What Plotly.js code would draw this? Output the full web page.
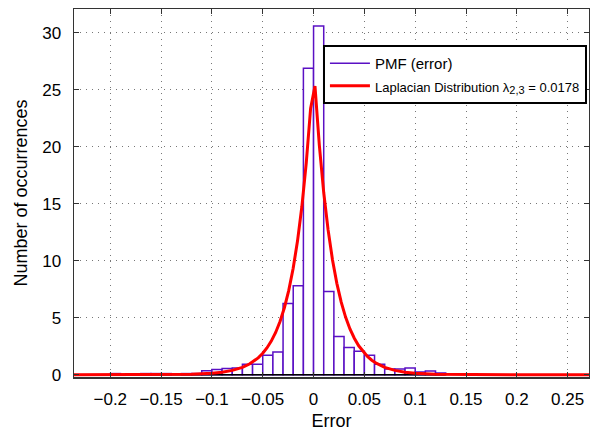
<!DOCTYPE html>
<html>
<head>
<meta charset="utf-8">
<script src="https://cdn.plot.ly/plotly-3.0.1.min.js"></script>
<style>html,body{margin:0;padding:0;background:#fff}#chart{width:590px;height:431px}</style>
</head>
<body>
<div id="chart"></div>
<script>
// Histogram bins (centers) and counts
const binCenters = [-0.195, -0.165, -0.155, -0.145, -0.125, -0.115, -0.105, -0.095, -0.085, -0.075,
  -0.065, -0.055, -0.045, -0.035, -0.025, -0.015, -0.005, 0.005, 0.015, 0.025,
  0.035, 0.045, 0.055, 0.065, 0.075, 0.085, 0.095, 0.105, 0.115, 0.125];
const binCounts = [0.1, 0.1, 0.1, 0.1, 0.1, 0.1, 0.35, 0.45, 0.55, 0.6,
  0.93, 0.93, 1.7, 2.0, 6.25, 7.8, 26.9, 30.6, 7.3, 3.35,
  2.4, 2.05, 1.7, 0.93, 0.5, 0.5, 0.6, 0.24, 0.33, 0.15];
const binWidth = 0.01;

// Laplacian curve points
const curveX = [-0.2357, -0.2, -0.15, -0.12, -0.1, -0.09, -0.08, -0.07, -0.0631, -0.0588, -0.0545, -0.0502,
  -0.0459, -0.0416, -0.0373, -0.0330, -0.0287, -0.0244, -0.0201, -0.0158, -0.0115, -0.0072, -0.0029,
  0.0014, 0.0057, 0.0100, 0.0143, 0.0186, 0.0229, 0.0272, 0.0315, 0.0358, 0.0401, 0.0444, 0.0487,
  0.0530, 0.0573, 0.0616, 0.07, 0.08, 0.09, 0.1, 0.12, 0.15, 0.2, 0.271];
const curveY = [0, 0.001, 0.009, 0.045, 0.13, 0.22, 0.38, 0.65, 0.94, 1.18, 1.48, 1.86,
  2.35, 2.95, 3.71, 4.67, 5.88, 7.40, 9.32, 11.73, 14.76, 18.58, 23.38,
  25.33, 20.13, 15.99, 12.71, 10.10, 8.02, 6.37, 5.06, 4.02, 3.20, 2.54, 2.02,
  1.60, 1.27, 1.01, 0.65, 0.38, 0.22, 0.13, 0.045, 0.009, 0.001, 0];

const xTicks = [-0.2, -0.15, -0.1, -0.05, 0, 0.05, 0.1, 0.15, 0.2, 0.25];
const yTicks = [0, 5, 10, 15, 20, 25, 30];
const baselineX = [-0.2, 0.13];
const baselineY = [0, 0];

const purple = '#5a10c4';
const FONT = 'Liberation Sans, Arial, sans-serif';

const traces = [
  {type: 'bar', x: binCenters, y: binCounts, width: binWidth,
   marker: {color: '#ffffff', line: {color: purple, width: 1.5}},
   showlegend: false, hoverinfo: 'skip'},
  {type: 'scatter', mode: 'lines', x: baselineX, y: baselineY,
   line: {color: '#000', width: 1.5}, showlegend: false, hoverinfo: 'skip'},
  {type: 'scatter', mode: 'lines', x: [null], y: [null], name: 'PMF (error)',
   line: {color: purple, width: 1.5}},
  {type: 'scatter', mode: 'lines', x: curveX, y: curveY,
   name: '<span style="font-size:13px">Laplacian Distribution λ<sub><span style="font-size:11px">2,3</span></sub> = 0.0178</span>',
   line: {color: '#ff0000', width: 3}}
];

const layout = {
  width: 590, height: 431,
  margin: {l: 74, r: 1, t: 9, b: 54},
  paper_bgcolor: '#fff', plot_bgcolor: '#fff',
  font: {family: FONT, size: 17, color: '#000'},
  bargap: 0,
  showlegend: true,
  legend: {x: 0.996, y: 0.902, xanchor: 'right', yanchor: 'top',
    bgcolor: '#fff', bordercolor: '#000', borderwidth: 2,
    font: {family: FONT, size: 15, color: '#000'}, itemwidth: 40, tracegroupgap: 0},
  xaxis: {range: [-0.2357, 0.271], tickvals: xTicks, ticks: 'inside', ticklen: 5,
    tickcolor: '#333', showline: true, linecolor: '#333', linewidth: 1.5, mirror: 'ticks',
    showgrid: true, gridcolor: '#777', gridwidth: 1, griddash: '1px,5px', zeroline: false,
    ticklabelstandoff: 6,
    title: {text: 'Error', font: {family: FONT, size: 18}, standoff: 6}},
  yaxis: {range: [-0.2, 32.1], tickvals: yTicks, ticks: 'inside', ticklen: 5,
    tickcolor: '#333', showline: true, linecolor: '#333', linewidth: 1.5, mirror: 'ticks',
    showgrid: true, gridcolor: '#777', gridwidth: 1, griddash: '1px,5px', zeroline: false,
    ticklabelstandoff: 8,
    title: {text: 'Number of occurrences', font: {family: FONT, size: 18}, standoff: 10}}
};

Plotly.newPlot('chart', traces, layout, {staticPlot: true});
</script>
</body>
</html>
